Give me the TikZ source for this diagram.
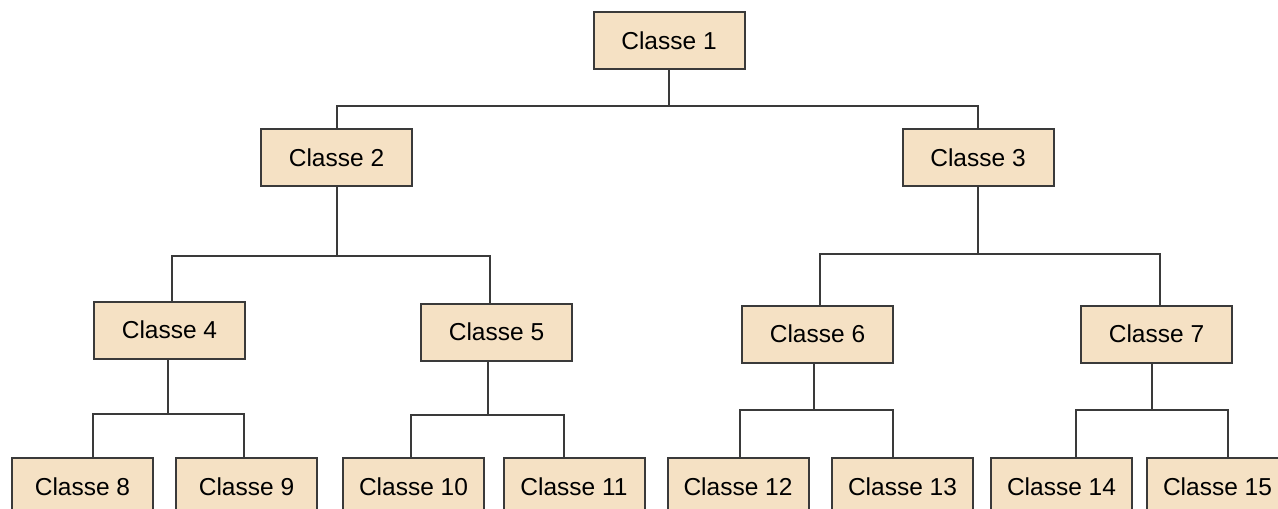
\documentclass[tikz,border=0pt]{standalone}
\usepackage{fontspec}
\setmainfont{Liberation Sans}
\usepackage{xcolor}
\usepackage{tikz}

\definecolor{boxfill}{RGB}{245,225,196}
\definecolor{boxline}{RGB}{58,58,58}

\tikzset{
  classe/.style={draw=boxline, fill=boxfill, line width=2pt, minimum width=151pt,
    minimum height=57pt, inner sep=0pt, font=\fontsize{24.5}{28}\selectfont},
  petite/.style={classe, minimum width=141pt},
  lien/.style={draw=boxline, line width=2pt}
}

\begin{document}
\begin{tikzpicture}[x=1pt,y=-1pt]
		\clip (0,0) rectangle (1278,509);
		% niveau 1 et 2
		\node[classe] (c1) at (669,40.5) {Classe 1};
		\node[classe] (c2) at (336.5,157.5) {Classe 2};
		\node[classe] (c3) at (978,157.5) {Classe 3};
		% niveau 3
		\node[classe] (c4) at (169.5,330) {Classe 4};
		\node[classe] (c5) at (496.5,332) {Classe 5};
		\node[classe] (c6) at (817.5,334) {Classe 6};
		\node[classe] (c7) at (1156.5,334) {Classe 7};
		% niveau 4
		\node[petite] (c8) at (82.5,486.5) {Classe 8};
		\node[petite] (c9) at (246.5,486.5) {Classe 9};
		\node[petite] (c10) at (413.5,486.5) {Classe 10};
		\node[petite] (c11) at (574,486.5) {Classe 11};
		\node[petite] (c12) at (738,486.5) {Classe 12};
		\node[petite] (c13) at (902.5,486.5) {Classe 13};
		\node[petite] (c14) at (1061.5,486.5) {Classe 14};
		\node[petite] (c15) at (1217.5,486.5) {Classe 15};
		% liens
		\coordinate (b1) at (669,106);
		\coordinate (b2) at (336.5,256);
		\coordinate (b3) at (978,254);
		\coordinate (b4) at (168,414);
		\coordinate (b5) at (488,415);
		\coordinate (b6) at (814,410);
		\coordinate (b7) at (1152,410);
		\draw[lien] (c1.south) -- (b1);
		\draw[lien] (c2.north) |- (b1) -| (c3.north);
		\draw[lien] (c2.south) -- (b2);
		\draw[lien] ([xshift=2.5pt]c4.north) |- (b2) -| ([xshift=-6.5pt]c5.north);
		\draw[lien] (c3.south) -- (b3);
		\draw[lien] ([xshift=2.5pt]c6.north) |- (b3) -| ([xshift=3.5pt]c7.north);
		\draw[lien] ([xshift=-1.5pt]c4.south) -- (b4);
		\draw[lien] ([xshift=10.5pt]c8.north) |- (b4) -| ([xshift=-2.5pt]c9.north);
		\draw[lien] ([xshift=-8.5pt]c5.south) -- (b5);
		\draw[lien] ([xshift=-2.5pt]c10.north) |- (b5) -| ([xshift=-10pt]c11.north);
		\draw[lien] ([xshift=-3.5pt]c6.south) -- (b6);
		\draw[lien] ([xshift=2pt]c12.north) |- (b6) -| ([xshift=-9.5pt]c13.north);
		\draw[lien] ([xshift=-4.5pt]c7.south) -- (b7);
		\draw[lien] ([xshift=14.5pt]c14.north) |- (b7) -| ([xshift=10.5pt]c15.north);
		\end{tikzpicture}
\end{document}
